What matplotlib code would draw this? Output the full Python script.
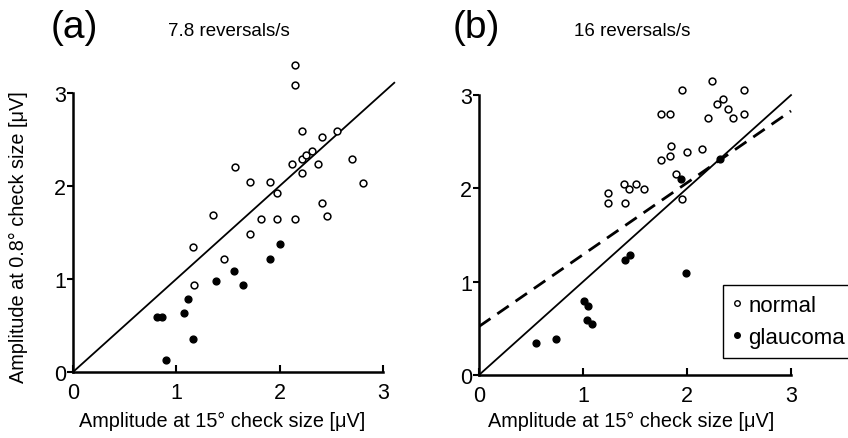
import numpy as np
import matplotlib.pyplot as plt
from matplotlib.lines import Line2D

plt.rcParams['font.family'] = ['Liberation Sans', 'DejaVu Sans']

W, H = 848, 439

# panel (a), 7.8 reversals/s
norm_a_x = [2.15, 2.15, 2.22, 2.41, 2.56, 1.57, 1.71, 1.91, 1.97, 2.12, 2.22, 2.26, 2.31, 2.22,
            2.37, 2.70, 2.81, 2.41, 2.46, 1.36, 1.82, 1.97, 2.15, 1.71, 1.16, 1.46, 1.17]
norm_a_y = [3.30, 3.09, 2.59, 2.53, 2.59, 2.20, 2.04, 2.04, 1.93, 2.24, 2.29, 2.33, 2.38, 2.14,
            2.24, 2.29, 2.03, 1.82, 1.68, 1.69, 1.65, 1.65, 1.65, 1.48, 1.34, 1.22, 0.94]
glau_a_x = [2.00, 1.91, 1.56, 1.38, 1.65, 1.11, 1.07, 0.81, 0.86, 1.16, 0.90]
glau_a_y = [1.38, 1.22, 1.09, 0.98, 0.94, 0.79, 0.63, 0.59, 0.59, 0.36, 0.13]

# panel (b), 16 reversals/s
norm_b_x = [2.24, 1.95, 2.55, 2.35, 2.29, 2.39, 2.44, 2.55, 2.20, 1.75, 1.84, 1.85, 1.84,
            1.75, 2.00, 2.14, 1.89, 1.95, 1.24, 1.24, 1.40, 1.39, 1.44, 1.51, 1.59]
norm_b_y = [3.15, 3.05, 3.05, 2.96, 2.90, 2.85, 2.75, 2.80, 2.75, 2.80, 2.80, 2.45, 2.35,
            2.30, 2.39, 2.42, 2.15, 1.89, 1.95, 1.84, 1.84, 2.05, 1.99, 2.05, 1.99]
glau_b_x = [1.94, 2.32, 1.40, 1.45, 1.99, 1.01, 1.05, 1.04, 1.09, 0.55, 0.74]
glau_b_y = [2.10, 2.31, 1.23, 1.29, 1.09, 0.79, 0.74, 0.59, 0.55, 0.34, 0.39]

# fitted lines: (x end, slope, intercept)
line_a = (3.11, 1.0, 0.0)
line_b_solid = (3.0, 1.0, 0.0)
line_b_dash = (3.0, 0.77, 0.52)

ticks = [0, 1, 2, 3]

fig = plt.figure(figsize=(W / 100, H / 100), dpi=100)

def px_ax(x0, y0, xu, yu):
    # x0,y0 = pixel of data origin; xu,yu = pixels per unit
    return fig.add_axes([x0 / W, 1 - y0 / H, 3.2 * xu / W, 3.4 * yu / H])

ax_a = px_ax(73, 373, 103.3, 93.0)
ax_b = px_ax(479, 376, 104.0, 93.3)

def style(ax):
    ax.set_xlim(0, 3.2)
    ax.set_ylim(0, 3.4)
    for s in ['top', 'right']:
        ax.spines[s].set_visible(False)
    for s in ['left', 'bottom']:
        ax.spines[s].set_linewidth(1.8)
        ax.spines[s].set_bounds(0, 3)
    ax.set_xticks(ticks)
    ax.set_yticks(ticks)
    ax.tick_params(axis='x', direction='in', length=5, width=1.5, labelsize=15.5, pad=7)
    ax.tick_params(axis='y', direction='out', length=4, width=1.5, labelsize=15.5, pad=1)
    ax.patch.set_alpha(0)

def draw_line(ax, spec, **kw):
    xe, m, b = spec
    xs = np.array([0, xe])
    ax.plot(xs, m * xs + b, color='black', **kw)

for ax in (ax_a, ax_b):
    style(ax)

draw_line(ax_a, line_a, lw=1.3)
ax_a.scatter(norm_a_x, norm_a_y, s=24, facecolors='white', edgecolors='black', linewidths=1.1, zorder=3)
ax_a.scatter(glau_a_x, glau_a_y, s=24, color='black', zorder=3)

draw_line(ax_b, line_b_solid, lw=1.3)
draw_line(ax_b, line_b_dash, lw=2.0, dashes=(5, 3))
ax_b.scatter(norm_b_x, norm_b_y, s=24, facecolors='white', edgecolors='black', linewidths=1.1, zorder=3)
ax_b.scatter(glau_b_x, glau_b_y, s=24, color='black', zorder=3)

def ftext(x, y, s, **kw):
    fig.text(x / W, 1 - y / H, s, ha='center', va='center', **kw)

ftext(74, 28, '(a)', fontsize=28)
ftext(476, 28, '(b)', fontsize=28)
ftext(229, 31, '7.8 reversals/s', fontsize=13.5)
ftext(632, 31, '16 reversals/s', fontsize=13.5)
ftext(222, 421, 'Amplitude at 15° check size [μV]', fontsize=14.3)
ftext(631, 421, 'Amplitude at 15° check size [μV]', fontsize=14.3)
ftext(18, 237, 'Amplitude at 0.8° check size [μV]', fontsize=14.3, rotation=90)

handles = [Line2D([], [], ls='none', marker='o', ms=4, mfc='white', mec='black', mew=1),
           Line2D([], [], ls='none', marker='o', ms=4, mfc='black', mec='black')]
leg = fig.legend(handles, ['normal', 'glaucoma'], loc='upper left',
                 bbox_to_anchor=(723 / W, 1 - 286 / H), borderaxespad=0, fontsize=16,
                 handlelength=0.4, handletextpad=0.3, labelspacing=0.5, borderpad=0.45,
                 fancybox=False, framealpha=1, edgecolor='black')
leg.get_frame().set_linewidth(1.0)

fig.savefig('out.png', dpi=100)
